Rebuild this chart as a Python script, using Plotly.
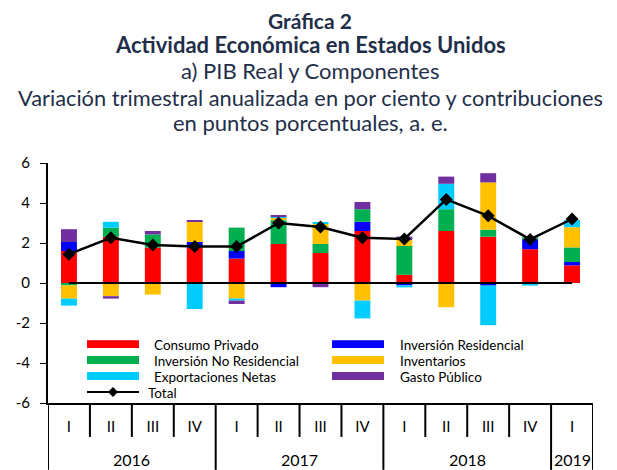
import plotly.graph_objects as go

# ---- data ----
years = ["2016", "2016", "2016", "2016", "2017", "2017", "2017", "2017",
         "2018", "2018", "2018", "2018", "2019"]
quarters = ["I", "II", "III", "IV", "I", "II", "III", "IV", "I", "II", "III", "IV", "I"]

consumo_privado = [1.60, 2.31, 1.77, 1.77, 1.22, 1.95, 1.50, 2.60, 0.41, 2.60, 2.31, 1.69, 0.88]
inversion_residencial = [0.45, 0.00, 0.00, 0.28, 0.38, -0.21, 0.00, 0.46, -0.12, 0.00, -0.13, 0.50, 0.17]
inversion_no_residencial = [-0.12, 0.45, 0.66, 0.00, 1.17, 1.19, 0.45, 0.63, 1.44, 1.09, 0.36, 0.10, 0.73]
inventarios = [-0.66, -0.66, -0.58, 1.01, -0.78, 0.12, 1.02, -0.88, 0.30, -1.21, 2.36, 0.00, 1.01]
exportaciones_netas = [-0.35, 0.30, 0.00, -1.30, -0.10, 0.04, 0.08, -0.89, -0.10, 1.27, -1.98, -0.13, 0.36]
gasto_publico = [0.64, -0.12, 0.17, 0.08, -0.17, 0.07, -0.21, 0.36, 0.17, 0.36, 0.46, 0.00, 0.00]
total = [1.44, 2.26, 1.90, 1.82, 1.82, 3.00, 2.80, 2.26, 2.20, 4.18, 3.36, 2.18, 3.20]
baseline = [0] * 13

series_names = ["Consumo Privado", "Inversión Residencial", "Inversión No Residencial",
                "Inventarios", "Exportaciones Netas", "Gasto Público"]
series_values = [consumo_privado, inversion_residencial, inversion_no_residencial,
                 inventarios, exportaciones_netas, gasto_publico]
series_colors = ["#FF0000", "#0000FF", "#00B050", "#FFC000", "#00CCFF", "#7030A0"]

y_ticks = [-6, -4, -2, 0, 2, 4, 6]
y_tick_labels = ["-6", "-4", "-2", "0", "2", "4", "6"]

FONT = "Lato"
pos = list(range(len(quarters)))

fig = go.Figure()
for name, vals, col in zip(series_names, series_values, series_colors):
    fig.add_trace(go.Bar(x=pos, y=vals, name=name, width=0.38,
                         marker=dict(color=col, line=dict(width=0)), showlegend=False))

fig.add_trace(go.Scatter(x=pos, y=baseline, mode="lines", line=dict(color="black", width=2),
                         showlegend=False, hoverinfo="skip"))
fig.add_trace(go.Scatter(x=pos, y=total, name="Total", mode="lines+markers",
                         line=dict(color="black", width=2.5),
                         marker=dict(symbol="diamond", size=10, color="black"),
                         showlegend=False))

# ---- layout geometry ----
# The page adds an 8px body margin, so the figure is sized to fill the rest of the window.
OFF = 8
WIN_W, WIN_H = 617, 470
W, H = WIN_W - OFF, WIN_H - OFF
# plot area in window pixels: x 48..593, y 162.5..403
PL, PR, PT, PB = 48, 593, 162.5, 403
L, R, T, B = PL - OFF, WIN_W - PR, PT - OFF, WIN_H - PB
pw, ph = PR - PL, PB - PT


def px(xp):  # window pixel -> paper x
    return (xp - PL) / pw


def py(yp):  # window pixel -> paper y
    return (PB - yp) / ph


shapes = []
annotations = []

# category axis dividers: short between quarters, long between years
for i in range(len(quarters) + 1):
    left_year = years[i - 1] if i > 0 else None
    right_year = years[i] if i < len(years) else None
    long_line = left_year != right_year
    bottom = WIN_H if long_line else 437
    shapes.append(dict(type="line", xref="x", yref="paper", x0=i - 0.5, x1=i - 0.5,
                       y0=py(PB), y1=py(bottom), line=dict(color="black", width=2)))

# year labels
year_list = []
for yv in years:
    if yv not in year_list:
        year_list.append(yv)
for yv in year_list:
    idx = [i for i, v in enumerate(years) if v == yv]
    annotations.append(dict(text=yv, xref="x", yref="paper", x=sum(idx) / len(idx), y=py(460),
                            xanchor="center", yanchor="middle", showarrow=False,
                            font=dict(family=FONT, size=16, color="black")))

# custom legend
legend_items = [
    ("Consumo Privado", "#FF0000", 87, 152, 344),
    ("Inversión Residencial", "#0000FF", 332, 398, 344),
    ("Inversión No Residencial", "#00B050", 87, 152, 360),
    ("Inventarios", "#FFC000", 332, 398, 360),
    ("Exportaciones Netas", "#00CCFF", 87, 152, 376),
    ("Gasto Público", "#7030A0", 332, 398, 376),
]
for name, col, sx, tx, yc in legend_items:
    shapes.append(dict(type="rect", xref="paper", yref="paper",
                       x0=px(sx), x1=px(sx + 52), y0=py(yc + 4), y1=py(yc - 4),
                       fillcolor=col, line=dict(width=0)))
    annotations.append(dict(text=name, xref="paper", yref="paper", x=px(tx), y=py(yc + 1),
                            xanchor="left", yanchor="middle", showarrow=False,
                            font=dict(family=FONT, size=13.5, color="black")))
shapes.append(dict(type="line", xref="paper", yref="paper", x0=px(87), x1=px(139),
                   y0=py(392), y1=py(392), line=dict(color="black", width=2)))
annotations.append(dict(text="Total", xref="paper", yref="paper", x=px(146), y=py(393),
                        xanchor="left", yanchor="middle", showarrow=False,
                        font=dict(family=FONT, size=13.5, color="black")))
shapes.append(dict(type="path", xref="paper", yref="paper",
                   path=f"M {px(113)} {py(387)} L {px(118)} {py(392)} L {px(113)} {py(397)} L {px(108)} {py(392)} Z",
                   fillcolor="black", line=dict(width=0)))

# titles
title_lines = [
    ("<b>Gráfica 2</b>", 20, 21),
    ("<b>Actividad Económica en Estados Unidos</b>", 44, 22),
    ("a) PIB Real y Componentes", 70, 22),
    ("Variación trimestral anualizada en por ciento y contribuciones", 97, 21.8),
    ("en puntos porcentuales, a. e.", 122, 22),
]
for txt, yc, fs in title_lines:
    annotations.append(dict(text=txt, xref="paper", yref="paper", x=px(310), y=py(yc),
                            xanchor="center", yanchor="middle", showarrow=False,
                            font=dict(family=FONT, size=fs, color="#1F2F4A")))

fig.update_layout(
    width=W, height=H,
    margin=dict(l=L, r=R, t=T, b=B, pad=0),
    paper_bgcolor="white", plot_bgcolor="white",
    barmode="relative",
    showlegend=False,
    font=dict(family=FONT, size=14, color="black"),
    shapes=shapes, annotations=annotations,
)
fig.update_yaxes(range=[-6, 6], tickvals=y_ticks, ticktext=y_tick_labels,
                 showgrid=False, zeroline=False,
                 showline=True, linecolor="black", linewidth=2, ticks="outside",
                 ticklen=6, tickcolor="black", tickwidth=1, automargin=False,
                 ticklabelstandoff=7,
                 tickfont=dict(family=FONT, size=15, color="black"))
fig.update_xaxes(range=[-0.5, len(quarters) - 0.5], tickvals=pos, ticktext=quarters,
                 showgrid=False, zeroline=False, showline=True, linecolor="black",
                 linewidth=2, ticks="", ticklabelstandoff=9, automargin=False,
                 tickfont=dict(family=FONT, size=15, color="black"))

fig.write_html("out.html")
